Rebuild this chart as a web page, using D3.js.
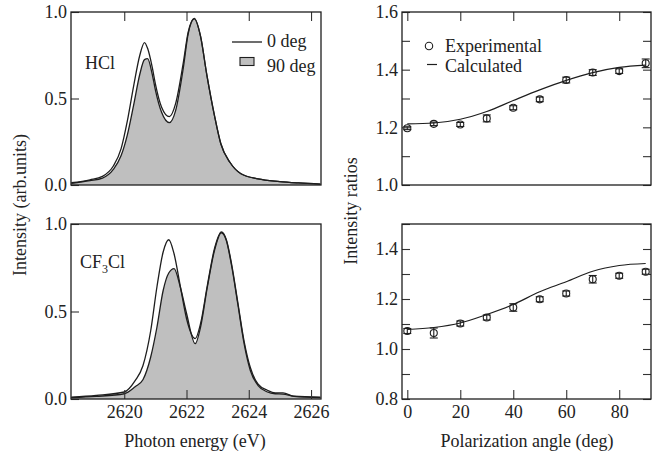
<!DOCTYPE html>
<html>
<head>
<meta charset="utf-8">
<script src="https://cdn.jsdelivr.net/npm/d3@7"></script>
<style>
  body { margin: 0; background: #fff; }
  .tick text { font-size: 18px; fill: #222; }
  .tick line { stroke: #333; stroke-width: 1.1; }
</style>
</head>
<body>
<div id="graph"></div>
<script>
// HCl spectra (energy in eV, intensity in arb. units)
var hclEnergy = [2618.3, 2618.9, 2619.3, 2619.65, 2619.9, 2620.1, 2620.3, 2620.5, 2620.65, 2620.75, 2620.9,
  2621.0, 2621.2, 2621.45, 2621.65, 2621.9, 2622.05, 2622.25, 2622.45, 2622.65, 2622.9, 2623.1, 2623.4,
  2623.75, 2624.3, 2625.0, 2625.6, 2626.3];
var hcl0 = [0.013, 0.03, 0.05, 0.11, 0.21, 0.37, 0.57, 0.75, 0.823, 0.79, 0.68,
  0.585, 0.45, 0.395, 0.47, 0.71, 0.88, 0.963, 0.86, 0.64, 0.40, 0.24, 0.13,
  0.065, 0.035, 0.02, 0.012, 0.005];
var hcl90 = [0.01, 0.025, 0.04, 0.09, 0.17, 0.29, 0.46, 0.64, 0.725, 0.73, 0.64,
  0.55, 0.42, 0.36, 0.43, 0.68, 0.87, 0.96, 0.86, 0.64, 0.40, 0.24, 0.13,
  0.065, 0.035, 0.02, 0.012, 0.005];

// CF3Cl spectra
var cfEnergy = [2618.3, 2619.1, 2620.0, 2620.35, 2620.6, 2620.85, 2621.05, 2621.25, 2621.43, 2621.6, 2621.8,
  2622.0, 2622.28, 2622.45, 2622.67, 2622.9, 2623.12, 2623.28, 2623.45, 2623.65, 2623.85, 2624.05,
  2624.3, 2624.6, 2624.85, 2625.1, 2625.45, 2626.3];
var cf0 = [0.01, 0.02, 0.04, 0.105, 0.19, 0.39, 0.64, 0.84, 0.91, 0.83, 0.645,
  0.46, 0.345, 0.43, 0.65, 0.86, 0.955, 0.91, 0.77, 0.55, 0.33, 0.18,
  0.085, 0.05, 0.035, 0.035, 0.016, 0.01];
var cf90 = [0.008, 0.015, 0.03, 0.07, 0.11, 0.24, 0.41, 0.62, 0.72, 0.745, 0.64,
  0.49, 0.316, 0.41, 0.64, 0.85, 0.95, 0.905, 0.76, 0.54, 0.316, 0.163,
  0.077, 0.04, 0.03, 0.028, 0.015, 0.008];

// intensity ratios vs polarization angle
var angles = [0, 10, 20, 30, 40, 50, 60, 70, 80, 90];
var hclRatio = [1.197, 1.212, 1.21, 1.231, 1.268, 1.297, 1.364, 1.39, 1.395, 1.422];
var hclErr = [0.005, 0.006, 0.007, 0.012, 0.007, 0.008, 0.01, 0.01, 0.008, 0.015];
var hclCalc = [1.212, 1.215, 1.228, 1.255, 1.293, 1.33, 1.363, 1.39, 1.408, 1.416];
var cfRatio = [1.072, 1.064, 1.102, 1.126, 1.166, 1.199, 1.222, 1.279, 1.293, 1.309];
var cfErr = [0.01, 0.02, 0.01, 0.01, 0.015, 0.01, 0.01, 0.015, 0.01, 0.01];
var cfCalc = [1.078, 1.086, 1.104, 1.138, 1.178, 1.229, 1.269, 1.311, 1.334, 1.342];

var width = 658, height = 455;
var ink = '#1e1e1e';
var grey = '#bfbfbf';
var serif = '"Liberation Serif", "Times New Roman", serif';

var svg = d3.select('#graph').append('svg')
  .attr('width', width).attr('height', height);
svg.append('rect').attr('width', width).attr('height', height).attr('fill', '#fff');

var xE = d3.scaleLinear().domain([2618.29, 2626.32]).range([71, 321]);
var xA = d3.scaleLinear().domain([-2, 92]).range([402, 651]);
var yTL = d3.scaleLinear().domain([0, 1]).range([185, 12]);
var yBL = d3.scaleLinear().domain([0, 1]).range([399, 224]);
var yTR = d3.scaleLinear().domain([1.0, 1.6]).range([185, 12]);
var yBR = d3.scaleLinear().domain([0.8, 1.5]).range([399, 224]);

function frame(x, y) {
  svg.append('rect')
    .attr('x', x.range()[0]).attr('y', y.range()[1])
    .attr('width', x.range()[1] - x.range()[0])
    .attr('height', y.range()[0] - y.range()[1])
    .attr('fill', 'none').attr('stroke', ink).attr('stroke-width', 1.3);
}

function axis(a, tx, ty) {
  var g = svg.append('g').attr('transform', 'translate(' + tx + ',' + ty + ')').call(a);
  g.select('.domain').remove();
  return g;
}

function spectrum(x, y, energy, v0, v90) {
  var pts0 = energy.map(function(e, i) { return [e, v0[i]]; });
  var pts90 = energy.map(function(e, i) { return [e, v90[i]]; });
  var area = d3.area().x(function(d) { return x(d[0]); })
    .y0(y(0)).y1(function(d) { return y(d[1]); })
    .curve(d3.curveMonotoneX);
  var line = d3.line().x(function(d) { return x(d[0]); })
    .y(function(d) { return y(d[1]); })
    .curve(d3.curveMonotoneX);
  svg.append('path').attr('d', area(pts90)).attr('fill', grey);
  svg.append('path').attr('d', line(pts90)).attr('fill', 'none').attr('stroke', ink).attr('stroke-width', 1.3);
  svg.append('path').attr('d', line(pts0)).attr('fill', 'none').attr('stroke', ink).attr('stroke-width', 1.3);
}

function ratios(x, y, vals, errs, calc) {
  var line = d3.line().x(function(d, i) { return x(angles[i]); })
    .y(function(d) { return y(d); })
    .curve(d3.curveMonotoneX);
  svg.append('path').attr('d', line(calc)).attr('fill', 'none').attr('stroke', ink).attr('stroke-width', 1.2);
  var g = svg.append('g').selectAll('g').data(vals).enter().append('g');
  g.append('line')
    .attr('x1', function(d, i) { return x(angles[i]); })
    .attr('x2', function(d, i) { return x(angles[i]); })
    .attr('y1', function(d, i) { return y(d - errs[i]); })
    .attr('y2', function(d, i) { return y(d + errs[i]); })
    .attr('stroke', ink).attr('stroke-width', 1.1);
  [-1, 1].forEach(function(s) {
    g.append('line')
      .attr('x1', function(d, i) { return x(angles[i]) - 4; })
      .attr('x2', function(d, i) { return x(angles[i]) + 4; })
      .attr('y1', function(d, i) { return y(d + s * errs[i]); })
      .attr('y2', function(d, i) { return y(d + s * errs[i]); })
      .attr('stroke', ink).attr('stroke-width', 1.1);
  });
  g.append('circle')
    .attr('cx', function(d, i) { return x(angles[i]); })
    .attr('cy', function(d) { return y(d); })
    .attr('r', 3.5).attr('fill', 'none').attr('stroke', ink).attr('stroke-width', 1.1);
}

// data
spectrum(xE, yTL, hclEnergy, hcl0, hcl90);
spectrum(xE, yBL, cfEnergy, cf0, cf90);
ratios(xA, yTR, hclRatio, hclErr, hclCalc);
ratios(xA, yBR, cfRatio, cfErr, cfCalc);

// left panels axes
var eTicks = [2620, 2622, 2624, 2626];
axis(d3.axisTop(xE).tickValues(eTicks).tickSize(-9).tickSizeOuter(0).tickFormat(''), 0, 12);
axis(d3.axisBottom(xE).tickValues(eTicks).tickSize(-9).tickSizeOuter(0).tickPadding(6).tickFormat(d3.format('d')), 0, 399);
[yTL, yBL].forEach(function(y) {
  axis(d3.axisLeft(y).tickValues([0, 0.5, 1]).tickSize(-8).tickSizeOuter(0).tickPadding(4).tickFormat(d3.format('.1f')), 71, 0);
});

// right panels axes
var aTicks = [0, 20, 40, 60, 80];
axis(d3.axisTop(xA).tickValues(aTicks).tickSize(-9).tickSizeOuter(0).tickFormat(''), 0, 12);
axis(d3.axisBottom(xA).tickValues(aTicks).tickSize(-9).tickSizeOuter(0).tickPadding(6).tickFormat(d3.format('d')), 0, 399);
function evenLabel(d) { return Math.round(d * 10) % 2 === 0 ? d3.format('.1f')(d) : ''; }
var trTicks = d3.range(10, 17).map(function(d) { return d / 10; });
var brTicks = d3.range(8, 16).map(function(d) { return d / 10; });
axis(d3.axisLeft(yTR).tickValues(trTicks).tickSize(-8).tickSizeOuter(0).tickPadding(4).tickFormat(evenLabel), 402, 0);
axis(d3.axisRight(yTR).tickValues(trTicks).tickSize(-8).tickSizeOuter(0).tickFormat(''), 651, 0);
axis(d3.axisLeft(yBR).tickValues(brTicks).tickSize(-8).tickSizeOuter(0).tickPadding(4).tickFormat(evenLabel), 402, 0);
axis(d3.axisRight(yBR).tickValues(brTicks).tickSize(-8).tickSizeOuter(0).tickFormat(''), 651, 0);

frame(xE, yTL);
frame(xE, yBL);
frame(xA, yTR);
frame(xA, yBR);

// titles
function label(x, y, txt, rot) {
  return svg.append('text')
    .attr('transform', 'translate(' + x + ',' + y + ')' + (rot ? ' rotate(-90)' : ''))
    .attr('text-anchor', 'middle').attr('font-size', 18).attr('fill', '#222').text(txt);
}
label(195, 447, 'Photon energy (eV)');
label(527, 447, 'Polarization angle (deg)');
label(26, 205, 'Intensity (arb.units)', true);
label(357, 211, 'Intensity ratios', true);

// panel names
svg.append('text').attr('x', 85).attr('y', 69).attr('font-size', 18).attr('fill', '#222').text('HCl');
var cf = svg.append('text').attr('x', 80).attr('y', 268).attr('font-size', 18).attr('fill', '#222');
cf.append('tspan').text('CF');
cf.append('tspan').attr('font-size', 12).attr('dy', 5).text('3');
cf.append('tspan').attr('dy', -5).text('Cl');

// legend, left
svg.append('line').attr('x1', 232).attr('x2', 262).attr('y1', 42).attr('y2', 42)
  .attr('stroke', ink).attr('stroke-width', 1.3);
svg.append('text').attr('x', 267).attr('y', 47).attr('font-size', 18).attr('fill', '#222').text('0 deg');
svg.append('rect').attr('x', 240).attr('y', 57.5).attr('width', 14).attr('height', 8)
  .attr('fill', grey).attr('stroke', ink).attr('stroke-width', 1.1);
svg.append('text').attr('x', 267).attr('y', 72).attr('font-size', 18).attr('fill', '#222').text('90 deg');

// legend, right
svg.append('circle').attr('cx', 429).attr('cy', 46).attr('r', 3.7)
  .attr('fill', 'none').attr('stroke', ink).attr('stroke-width', 1.1);
svg.append('text').attr('x', 445).attr('y', 52).attr('font-size', 18).attr('fill', '#222').text('Experimental');
svg.append('line').attr('x1', 427).attr('x2', 437).attr('y1', 64.5).attr('y2', 64.5)
  .attr('stroke', ink).attr('stroke-width', 1.2);
svg.append('text').attr('x', 445).attr('y', 72).attr('font-size', 18).attr('fill', '#222').text('Calculated');

// every label in Times-like serif, as in the original figure
svg.selectAll('text').style('font-family', serif);
</script>
</body>
</html>
